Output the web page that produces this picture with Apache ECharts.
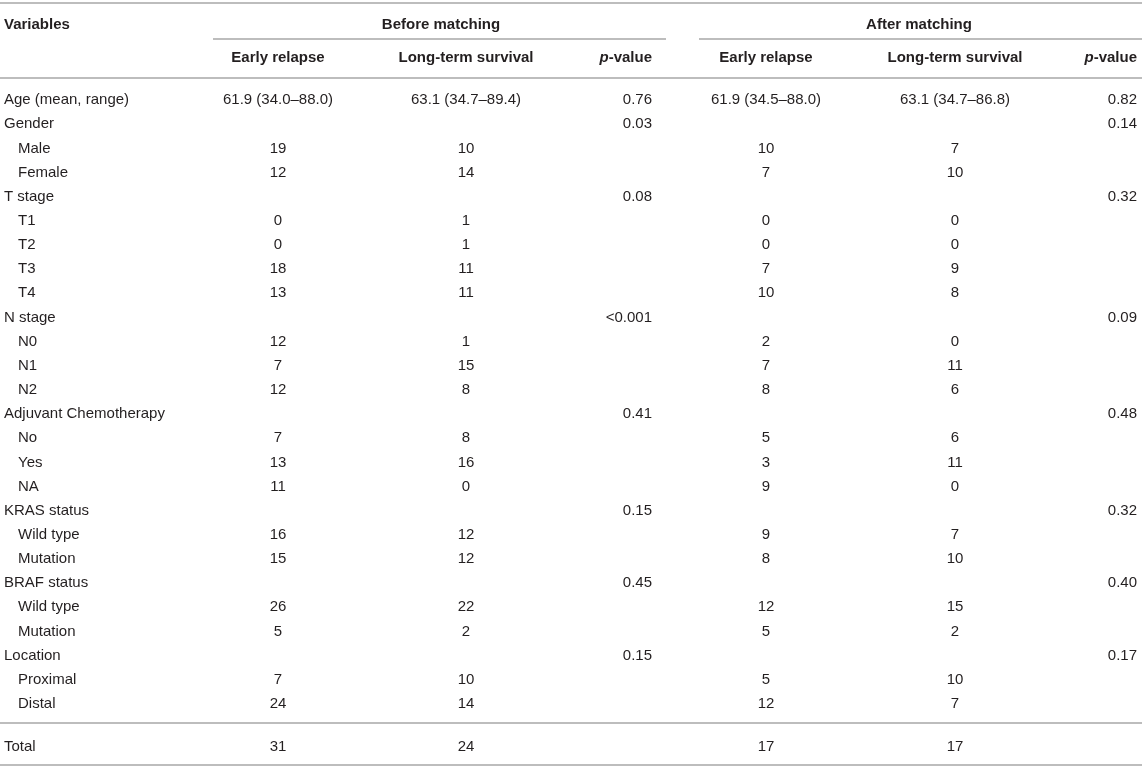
<!DOCTYPE html>
<html>
<head>
<meta charset="utf-8">
<script src="https://cdn.jsdelivr.net/npm/echarts@6/dist/echarts.min.js"></script>
<style>
html, body { margin: 0; padding: 0; background: #fff; }
#main { width: 1142px; height: 767px; }
</style>
</head>
<body>
<div id="main"></div>
<script>
// table content
var groupTitles = ['Before matching', 'After matching'];
var columnTitles = ['Early relapse', 'Long-term survival', 'p-value', 'Early relapse', 'Long-term survival', 'p-value'];

var rowLabels = ['Age (mean, range)', 'Gender', 'Male', 'Female', 'T stage', 'T1', 'T2', 'T3', 'T4',
	'N stage', 'N0', 'N1', 'N2', 'Adjuvant Chemotherapy', 'No', 'Yes', 'NA',
	'KRAS status', 'Wild type', 'Mutation', 'BRAF status', 'Wild type', 'Mutation',
	'Location', 'Proximal', 'Distal'];

var beforeEarly = ['61.9 (34.0–88.0)', '', '19', '12', '', '0', '0', '18', '13', '', '12', '7', '12',
	'', '7', '13', '11', '', '16', '15', '', '26', '5', '', '7', '24'];
var beforeLong = ['63.1 (34.7–89.4)', '', '10', '14', '', '1', '1', '11', '11', '', '1', '15', '8',
	'', '8', '16', '0', '', '12', '12', '', '22', '2', '', '10', '14'];
var beforeP = ['0.76', '0.03', '', '', '0.08', '', '', '', '', '<0.001', '', '', '',
	'0.41', '', '', '', '0.15', '', '', '0.45', '', '', '0.15', '', ''];
var afterEarly = ['61.9 (34.5–88.0)', '', '10', '7', '', '0', '0', '7', '10', '', '2', '7', '8',
	'', '5', '3', '9', '', '9', '8', '', '12', '5', '', '5', '12'];
var afterLong = ['63.1 (34.7–86.8)', '', '7', '10', '', '0', '0', '9', '8', '', '0', '11', '6',
	'', '6', '11', '0', '', '7', '10', '', '15', '2', '', '10', '7'];
var afterP = ['0.82', '0.14', '', '', '0.32', '', '', '', '', '0.09', '', '', '',
	'0.48', '', '', '', '0.32', '', '', '0.40', '', '', '0.17', '', ''];

var totalLabel = 'Total';
var totalValues = ['31', '24', '', '17', '17', ''];

// layout: x anchor and alignment of each column
var colX = [4, 278, 466, 652, 766, 955, 1137];
var colAlign = ['left', 'center', 'center', 'right', 'center', 'center', 'right'];
var groupX = [441, 919];

var FONT = '"Liberation Sans", Arial, Helvetica, sans-serif';
var FONT_SIZE = 15;
var TEXT_COLOR = '#231f20';
var RULE_COLOR = '#bdbdbd';

function cell(x, row, text, align, bold) {
	return { value: [x, row], text: text, align: align, bold: !!bold };
}

var headerData = [cell(colX[0], 0, 'Variables', 'left', true)];
groupTitles.forEach(function (t, i) {
	headerData.push(cell(groupX[i], 0, t, 'center', true));
});
columnTitles.forEach(function (t, i) {
	headerData.push(cell(colX[i + 1], 1, t, colAlign[i + 1], true));
});

var bodyData = [];
var bodyColumns = [beforeEarly, beforeLong, beforeP, afterEarly, afterLong, afterP];
rowLabels.forEach(function (label, r) {
	// sub-rows (no p-value) are indented
	var sub = beforeP[r] === '' && afterP[r] === '';
	bodyData.push(cell(colX[0] + (sub ? 14 : 0), r, label, 'left'));
	bodyColumns.forEach(function (col, c) {
		if (col[r] !== '') bodyData.push(cell(colX[c + 1], r, col[r], colAlign[c + 1]));
	});
});

var totalData = [cell(colX[0], 0, totalLabel, 'left')];
totalValues.forEach(function (v, c) {
	if (v !== '') totalData.push(cell(colX[c + 1], 0, v, colAlign[c + 1]));
});

function renderCell(params, api) {
	var item = cellSets[params.seriesIndex][params.dataIndex];
	var pt = api.coord([api.value(0), api.value(1)]);
	var weight = item.bold ? 'bold' : 'normal';
	var text = item.text;
	var rich = {};
	if (text === 'p-value') {
		text = '{i|p}-value';
		rich.i = { fontStyle: 'italic', fontWeight: weight, fontSize: FONT_SIZE, fontFamily: FONT, fill: TEXT_COLOR };
	}
	return {
		type: 'text',
		x: pt[0],
		y: pt[1],
		style: {
			text: text,
			rich: rich,
			align: item.align,
			verticalAlign: 'middle',
			fontSize: FONT_SIZE,
			fontWeight: weight,
			fontFamily: FONT,
			fill: TEXT_COLOR
		}
	};
}

var cellSets = [headerData, bodyData, totalData];

function rowAxis(n, gridIndex) {
	var d = [];
	for (var i = 0; i < n; i++) d.push(i);
	return { type: 'category', gridIndex: gridIndex, data: d, inverse: true, show: false };
}

function colAxis(gridIndex) {
	return { type: 'value', gridIndex: gridIndex, min: 0, max: 1142, show: false };
}

function rule(x1, y, x2) {
	return {
		type: 'line',
		shape: { x1: x1, y1: y, x2: x2, y2: y },
		style: { stroke: RULE_COLOR, lineWidth: 2 }
	};
}

var chart = echarts.init(document.getElementById('main'), null, { renderer: 'canvas' });
var option = {
	backgroundColor: '#fff',
	animation: false,
	grid: [
		{ left: 0, right: 0, top: 8.5, height: 66 },
		{ left: 0, right: 0, top: 88, height: 628 },
		{ left: 0, right: 0, top: 735, height: 24 }
	],
	xAxis: [colAxis(0), colAxis(1), colAxis(2)],
	yAxis: [rowAxis(2, 0), rowAxis(rowLabels.length, 1), rowAxis(1, 2)],
	series: cellSets.map(function (set, i) {
		return {
			type: 'custom',
			xAxisIndex: i,
			yAxisIndex: i,
			renderItem: renderCell,
			data: set.map(function (c) { return c.value; }),
			silent: true
		};
	}),
	graphic: [
		rule(0, 3, 1142),
		rule(213, 39, 666),
		rule(699, 39, 1142),
		rule(0, 78, 1142),
		rule(0, 723, 1142),
		rule(0, 765, 1142)
	]
};
chart.setOption(option);
</script>
</body>
</html>
